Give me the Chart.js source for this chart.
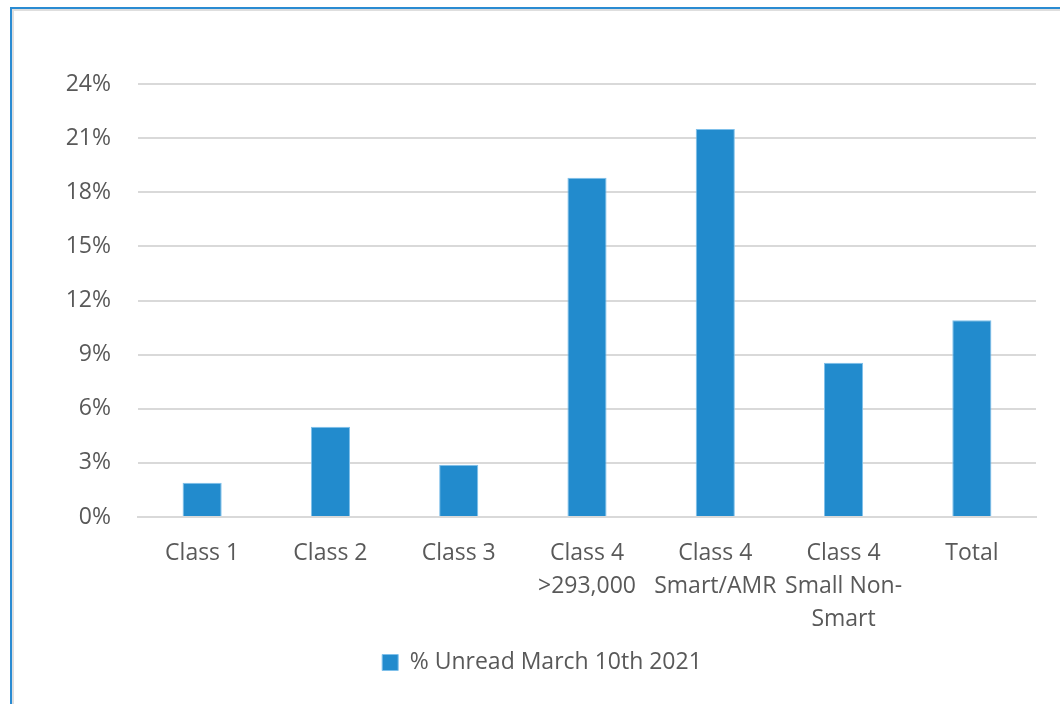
<!DOCTYPE html>
<html>
<head>
<meta charset="utf-8">
<script src="https://cdn.jsdelivr.net/npm/chart.js@4.4.1/dist/chart.umd.min.js"></script>
<style>
  html, body { margin: 0; padding: 0; background: #fff; }
  #frame { position: absolute; left: 10px; top: 7px; width: 1100px; height: 760px;
           border: 2px solid #2a8bd2; box-shadow: inset 1px 1px 0 1px #dedede; }
  #wrap { position: absolute; left: 0; top: 0; width: 1060px; height: 704px; }
</style>
</head>
<body>
<div id="frame"></div>
<div id="wrap"><canvas id="c" width="1060" height="704"></canvas></div>
<script>
const categories = ['Class 1', 'Class 2', 'Class 3', ['Class 4', '>293,000'], ['Class 4', 'Smart/AMR'], ['Class 4', 'Small Non-', 'Smart'], 'Total'];
const seriesName = '% Unread March 10th 2021';
const unreadPct = [1.9, 5.0, 2.9, 18.8, 21.5, 8.55, 10.9];
const yTicks = [0, 3, 6, 9, 12, 15, 18, 21, 24];

const FONT = "'Open Sans', sans-serif";
const TXT = '#595959';

new Chart(document.getElementById('c'), {
  type: 'bar',
  data: {
    labels: categories,
    datasets: [{
      label: seriesName,
      data: unreadPct,
      backgroundColor: '#228bcd',
      borderColor: '#7fc0ea',
      borderWidth: 1,
      categoryPercentage: 1,
      barPercentage: 0.305
    }]
  },
  options: {
    responsive: false,
    animation: false,
    devicePixelRatio: 1,
    layout: { padding: { left: 48, right: 24, top: 84, bottom: 20 } },
    plugins: {
      tooltip: { enabled: false },
      legend: {
        position: 'bottom',
        labels: { font: { family: FONT, size: 23 }, color: TXT, boxWidth: 16, boxHeight: 16, padding: 10 }
      }
    },
    scales: {
      y: {
        min: 0, max: 24,
        afterFit: s => { s.width = 90; },
        afterBuildTicks: s => { s.ticks = yTicks.map(v => ({ value: v })); },
        ticks: { callback: v => v + '%', font: { family: FONT, size: 23 }, color: TXT, padding: 27 },
        grid: { color: '#d9d9d9', lineWidth: 2, drawTicks: false },
        border: { display: false }
      },
      x: {
        afterFit: s => { s.height = 124; },
        ticks: { font: { family: FONT, size: 23, lineHeight: 1.435 }, color: TXT, padding: 20, maxRotation: 0, autoSkip: false },
        grid: { display: false, drawTicks: false },
        border: { color: '#d9d9d9', width: 2 }
      }
    }
  }
});
</script>
</body>
</html>
